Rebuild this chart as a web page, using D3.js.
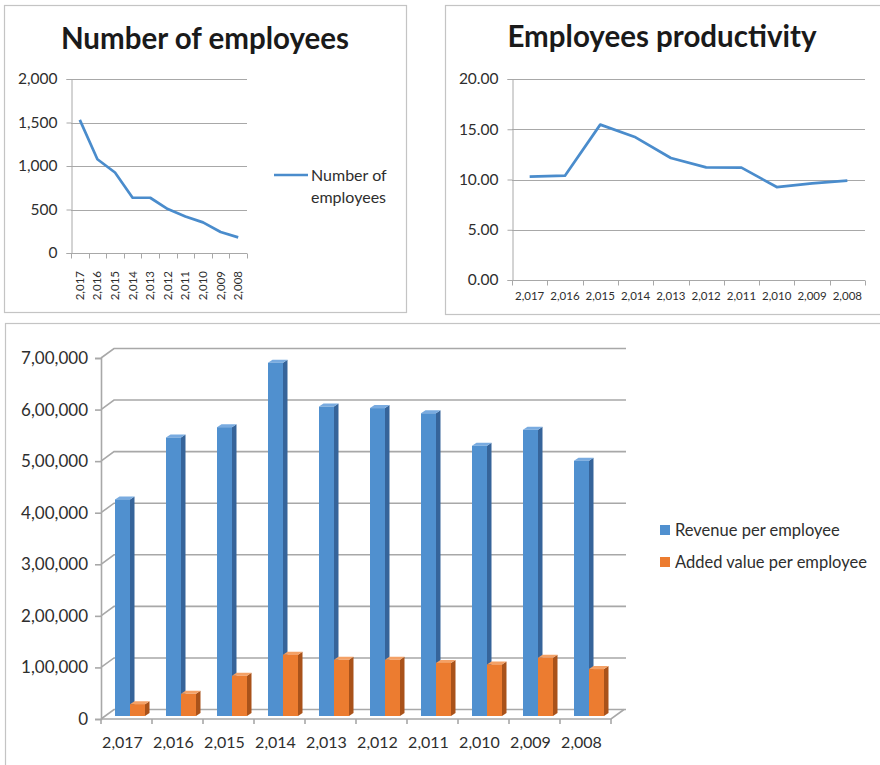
<!DOCTYPE html>
<html>
<head>
<meta charset="utf-8">
<script src="https://cdn.jsdelivr.net/npm/d3@7"></script>
<style>
  html, body { margin: 0; padding: 0; background: #fff; }
  svg { display: block; font-family: Lato, "Open Sans", sans-serif; }
</style>
</head>
<body>
<svg id="chart" width="880" height="765"></svg>
<script>
// Years shown on every category axis
const years = ["2,017", "2,016", "2,015", "2,014", "2,013", "2,012", "2,011", "2,010", "2,009", "2,008"];

// Headcount per year
const employees = [1530, 1078, 925, 635, 635, 505, 420, 352, 241, 180];
const employeeTicks = [0, 500, 1000, 1500, 2000];

// Productivity per year
const productivity = [10.28, 10.38, 15.46, 14.2, 12.14, 11.21, 11.18, 9.25, 9.62, 9.88];
const productivityTicks = [0, 5, 10, 15, 20];

// Per-employee money figures
const revenuePerEmployee = [420000, 540000, 560000, 685000, 600000, 597000, 587000, 524000, 555000, 495000];
const addedValuePerEmployee = [23000, 43000, 78000, 119000, 109000, 109000, 103000, 100000, 113000, 91000];
const valueTicks = [0, 100000, 200000, 300000, 400000, 500000, 600000, 700000];
const seriesNames = ["Revenue per employee", "Added value per employee"];

const svg = d3.select("#chart");
const TEXT = "#2e2e2e";
const GRID = "#a8a8a8";
const LINE = "#4a8ccc";

// Indian digit grouping: 7,00,000
function indian(n) {
  const s = String(Math.round(n));
  if (s.length <= 3) return s;
  const last3 = s.slice(-3);
  const rest = s.slice(0, -3).replace(/\B(?=(\d{2})+(?!\d))/g, ",");
  return rest + "," + last3;
}

function panel(x, y, w, h) {
  svg.append("rect").attr("x", x + 0.5).attr("y", y + 0.5).attr("width", w).attr("height", h)
    .attr("fill", "#fff").attr("stroke", "#c4c4c4").attr("stroke-width", 1.2);
}

// ---------- Line chart helper ----------
function lineChart(opts) {
  const g = svg.append("g");
  const x = d3.scaleBand().domain(years).range([opts.left, opts.right]);
  const y = d3.scaleLinear().domain([0, d3.max(opts.ticks)]).range([opts.bottom, opts.top]);

  g.append("text").attr("x", opts.titleX).attr("y", opts.titleY)
    .attr("text-anchor", "middle").attr("font-weight", 700).attr("font-size", opts.titleSize)
    .attr("fill", "#1a1a1a").text(opts.title);

  // gridlines
  g.selectAll(".grid").data(opts.ticks.filter(t => t > 0)).join("line")
    .attr("x1", opts.left).attr("x2", opts.right)
    .attr("y1", d => Math.round(y(d)) + 0.5).attr("y2", d => Math.round(y(d)) + 0.5)
    .attr("stroke", GRID).attr("stroke-width", 1);

  // value axis
  const ya = g.append("g").attr("transform", `translate(${opts.left + 0.5},0)`)
    .call(d3.axisLeft(y).tickValues(opts.ticks).tickSize(5).tickPadding(9).tickFormat(opts.fmt));
  ya.select(".domain").attr("stroke", GRID);
  ya.selectAll(".tick line").attr("stroke", GRID);
  ya.selectAll(".tick text").attr("font-family", "Lato, sans-serif").attr("font-size", opts.yFont).attr("fill", TEXT);

  // category axis
  const y0 = Math.round(y(0)) + 0.5;
  g.append("line").attr("x1", opts.left).attr("x2", opts.right).attr("y1", y0).attr("y2", y0)
    .attr("stroke", GRID);
  const bounds = years.map(d => x(d)).concat([x.range()[1]]);
  g.selectAll(".xt").data(bounds).join("line")
    .attr("x1", d => Math.round(d) + 0.5).attr("x2", d => Math.round(d) + 0.5)
    .attr("y1", y0).attr("y2", y0 + 5).attr("stroke", GRID);

  const lbl = g.selectAll(".xl").data(years).join("text")
    .attr("font-size", opts.xFont).attr("fill", TEXT).text(d => d);
  if (opts.rotate) {
    lbl.attr("text-anchor", "end")
      .attr("transform", d => `translate(${x(d) + x.bandwidth() / 2},${opts.xLabelY}) rotate(-90)`)
      .attr("dy", "0.35em");
  } else {
    lbl.attr("text-anchor", "middle").attr("x", d => x(d) + x.bandwidth() / 2)
      .attr("y", opts.xLabelY).attr("dy", "0.35em");
  }

  const line = d3.line().x((d, i) => x(years[i]) + x.bandwidth() / 2).y(d => y(d));
  g.append("path").datum(opts.values).attr("d", line)
    .attr("fill", "none").attr("stroke", LINE).attr("stroke-width", 2.7)
    .attr("stroke-linejoin", "round");
  return g;
}

// ---------- Number of employees ----------
panel(4, 5, 402, 307);
const g1 = lineChart({
  title: "Number of employees", titleX: 205, titleY: 49, titleSize: 29.5,
  left: 71, right: 247, top: 79, bottom: 253,
  ticks: employeeTicks, fmt: d3.format(","), values: employees,
  yFont: 15.5, xFont: 11.5, rotate: true, xLabelY: 271
});
// legend
g1.append("line").attr("x1", 274).attr("x2", 308).attr("y1", 175).attr("y2", 175)
  .attr("stroke", LINE).attr("stroke-width", 2.7);
g1.append("text").attr("x", 311).attr("y", 175).attr("dy", "0.35em")
  .attr("font-size", 16).attr("fill", TEXT).text("Number of");
g1.append("text").attr("x", 311).attr("y", 197).attr("dy", "0.35em")
  .attr("font-size", 16).attr("fill", TEXT).text("employees");

// ---------- Employees productivity ----------
panel(445, 5, 440, 309);
lineChart({
  title: "Employees productivity", titleX: 662, titleY: 47, titleSize: 29.5,
  left: 512, right: 865, top: 79, bottom: 280,
  ticks: productivityTicks, fmt: d3.format(".2f"), values: productivity,
  yFont: 15.5, xFont: 11.5, rotate: false, xLabelY: 296
});

// ---------- 3-D clustered columns ----------
panel(5, 323, 880, 450);
const g3 = svg.append("g");
const DX = 13, DY = -9.5;             // depth of the wall/floor box
const BDX = 4.5, BDY = -3;            // depth of each column
const SHIFT = { x: 4, y: -3 };        // columns sit slightly back on the floor
const x3 = d3.scaleBand().domain(years).range([101, 611]);
const xs = d3.scaleBand().domain(seriesNames).range([10, 40]);
const y3 = d3.scaleLinear().domain([0, 700000]).range([719, 358]);

// back-wall gridlines with side-wall diagonals
valueTicks.forEach(t => {
  const yf = y3(t);
  g3.append("path")
    .attr("d", `M${101},${yf} L${101 + DX},${yf + DY} L${611 + DX + 2},${yf + DY}`)
    .attr("fill", "none").attr("stroke", GRID).attr("stroke-width", 1.6);
});
// floor front edge and right diagonal
g3.append("path").attr("d", `M101,${y3(0)} L611,${y3(0)} L${611 + DX},${y3(0) + DY}`)
  .attr("fill", "none").attr("stroke", GRID).attr("stroke-width", 1.6);
// front value axis with ticks
const ya3 = g3.append("g").attr("transform", "translate(101,0)")
  .call(d3.axisLeft(y3).tickValues(valueTicks).tickSize(6).tickPadding(7).tickFormat(indian));
ya3.select(".domain").attr("stroke", GRID).attr("stroke-width", 1.6);
ya3.selectAll(".tick line").attr("stroke", GRID).attr("stroke-width", 1.6);
ya3.selectAll(".tick text").attr("font-family", "Lato, sans-serif").attr("font-size", 17).attr("fill", TEXT);
// category ticks
const b3 = years.map(d => x3(d)).concat([x3.range()[1]]);
g3.selectAll(".xt3").data(b3).join("line")
  .attr("x1", d => d).attr("x2", d => d).attr("y1", y3(0)).attr("y2", y3(0) + 5)
  .attr("stroke", GRID).attr("stroke-width", 1.6);
g3.selectAll(".xl3").data(years).join("text")
  .attr("x", d => x3(d) + x3.bandwidth() / 2 - 4).attr("y", 742).attr("dy", "0.35em")
  .attr("text-anchor", "middle").attr("font-size", 16).attr("fill", TEXT).text(d => d);

const palettes = [
  { front: "#5090cf", side: "#36649a", top: "#79abe0" },
  { front: "#ec7c30", side: "#a9521a", top: "#f4a166" }
];
const seriesValues = [revenuePerEmployee, addedValuePerEmployee];

years.forEach((yr, i) => {
  seriesNames.forEach((s, k) => {
    const v = seriesValues[k][i];
    const x0 = x3(yr) + xs(s) + SHIFT.x;
    const w = xs.bandwidth();
    const yb = y3(0) + SHIFT.y;
    const yt = y3(v) + SHIFT.y;
    const c = palettes[k];
    // side face
    g3.append("path")
      .attr("d", `M${x0 + w},${yb} L${x0 + w},${yt} L${x0 + w + BDX},${yt + BDY} L${x0 + w + BDX},${yb + BDY} Z`)
      .attr("fill", c.side);
    // top face
    g3.append("path")
      .attr("d", `M${x0},${yt} L${x0 + BDX},${yt + BDY} L${x0 + w + BDX},${yt + BDY} L${x0 + w},${yt} Z`)
      .attr("fill", c.top);
    // front face
    g3.append("rect").attr("x", x0).attr("y", yt).attr("width", w).attr("height", yb - yt)
      .attr("fill", c.front);
  });
});

// legend
seriesNames.forEach((s, k) => {
  const ly = 530 + k * 32;
  g3.append("rect").attr("x", 660).attr("y", ly - 5).attr("width", 10).attr("height", 10)
    .attr("fill", palettes[k].front);
  g3.append("text").attr("x", 675).attr("y", ly).attr("dy", "0.35em")
    .attr("font-size", 16.5).attr("fill", TEXT).text(s);
});
</script>
</body>
</html>
